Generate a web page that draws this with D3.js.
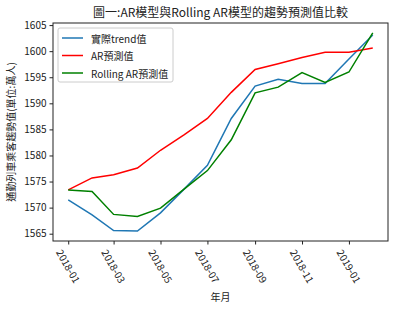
<!DOCTYPE html>
<html>
<head>
<meta charset="utf-8">
<script src="https://cdn.jsdelivr.net/npm/d3@7"></script>
<style>
  body { margin: 0; background: #fff; }
  text { font-family: "Noto Sans CJK TC", "Noto Sans", sans-serif; fill: #222; }
</style>
</head>
<body>
<div id="chart"></div>
<script>
// monthly data, 2018-01 .. 2019-02
const months = ["2018-01","2018-02","2018-03","2018-04","2018-05","2018-06","2018-07",
                "2018-08","2018-09","2018-10","2018-11","2018-12","2019-01","2019-02"];
const trendVals   = [1571.5, 1568.6, 1565.6, 1565.5, 1569.0, 1573.6, 1578.1,
                     1587.1, 1593.3, 1594.6, 1593.8, 1593.8, 1598.5, 1603.1];
const arVals      = [1573.4, 1575.7, 1576.3, 1577.6, 1581.0, 1584.0, 1587.1,
                     1592.1, 1596.5, 1597.6, 1598.8, 1599.8, 1599.8, 1600.6];
const rollingVals = [1573.4, 1573.1, 1568.7, 1568.3, 1569.9, 1573.6, 1577.1,
                     1583.0, 1592.0, 1593.1, 1595.9, 1594.0, 1596.0, 1603.5];
const yTicks = [1565, 1570, 1575, 1580, 1585, 1590, 1595, 1600, 1605];
const xTickLabels = ["2018-01","2018-03","2018-05","2018-07","2018-09","2018-11","2019-01"];

const svgWidth = 395, svgHeight = 311;
const margin = {top: 23, right: 7, bottom: 70, left: 53};
const width = svgWidth - margin.left - margin.right;
const height = svgHeight - margin.top - margin.bottom;

const parse = d3.timeParse("%Y-%m");
const dates = months.map(parse);

const svg = d3.select("#chart").append("svg")
  .attr("width", svgWidth)
  .attr("height", svgHeight);

const chartGroup = svg.append("g")
  .attr("transform", `translate(${margin.left}, ${margin.top})`);

// matplotlib-like 5% padding
const t0 = +dates[0], t1 = +dates[dates.length - 1];
const tPad = (t1 - t0) * 0.05;
const x = d3.scaleTime().domain([new Date(t0 - tPad), new Date(t1 + tPad)]).range([0, width]);

const all = trendVals.concat(arVals, rollingVals);
const vMin = d3.min(all), vMax = d3.max(all);
const vPad = (vMax - vMin) * 0.05;
const y = d3.scaleLinear().domain([vMin - vPad, vMax + vPad]).range([height, 0]);

// axes
const xAxis = chartGroup.append("g")
  .attr("transform", `translate(0, ${height})`)
  .call(d3.axisBottom(x)
    .tickValues(xTickLabels.map(parse))
    .tickSize(3.5)
    .tickFormat(d3.timeFormat("%Y-%m")));
xAxis.select(".domain").remove();
xAxis.selectAll("line").attr("stroke", "#222");
xAxis.selectAll("text")
  .attr("font-size", 10)
  .attr("text-anchor", "middle")
  .attr("dominant-baseline", "central")
  .attr("y", 0).attr("dy", 0)
  .attr("transform", "translate(0, 25) rotate(60)");

const yAxis = chartGroup.append("g")
  .call(d3.axisLeft(y).tickValues(yTicks).tickSize(3.5).tickPadding(3).tickFormat(d3.format("d")));
yAxis.select(".domain").remove();
yAxis.selectAll("line").attr("stroke", "#222");
yAxis.selectAll("text").attr("font-size", 10);

// frame
chartGroup.append("rect")
  .attr("width", width).attr("height", height)
  .attr("fill", "none").attr("stroke", "#222").attr("stroke-width", 1);

// lines
const series = [
  {name: "實際trend值", vals: trendVals, color: "#1f77b4"},
  {name: "AR預測值", vals: arVals, color: "red"},
  {name: "Rolling AR預測值", vals: rollingVals, color: "green"}
];

const line = d3.line()
  .x((d, i) => x(dates[i]))
  .y(d => y(d));

series.forEach(s => {
  chartGroup.append("path")
    .datum(s.vals)
    .attr("d", line)
    .attr("fill", "none")
    .attr("stroke", s.color)
    .attr("stroke-width", 1.5);
});

// title & labels
svg.append("text")
  .attr("x", margin.left + width / 2)
  .attr("y", 17)
  .attr("text-anchor", "middle")
  .attr("font-size", 12)
  .text("圖一:AR模型與Rolling AR模型的趨勢預測值比較");

svg.append("text")
  .attr("x", margin.left + width / 2)
  .attr("y", 301)
  .attr("text-anchor", "middle")
  .attr("font-size", 10)
  .text("年月");

svg.append("text")
  .attr("transform", `translate(15, ${margin.top + height / 2}) rotate(-90)`)
  .attr("text-anchor", "middle")
  .attr("font-size", 10)
  .text("通勤列車乘客趨勢值(單位:萬人)");

// legend
const legend = chartGroup.append("g").attr("transform", "translate(5, 5)");
legend.append("rect")
  .attr("width", 115).attr("height", 54)
  .attr("rx", 2)
  .attr("fill", "#fff").attr("fill-opacity", 0.8)
  .attr("stroke", "#ccc");
series.forEach((s, i) => {
  const ly = 10 + i * 17.5;
  legend.append("line")
    .attr("x1", 4).attr("x2", 25)
    .attr("y1", ly).attr("y2", ly)
    .attr("stroke", s.color).attr("stroke-width", 1.5);
  legend.append("text")
    .attr("x", 33).attr("y", ly)
    .attr("dominant-baseline", "central")
    .attr("font-size", 10)
    .text(s.name);
});
</script>
</body>
</html>
